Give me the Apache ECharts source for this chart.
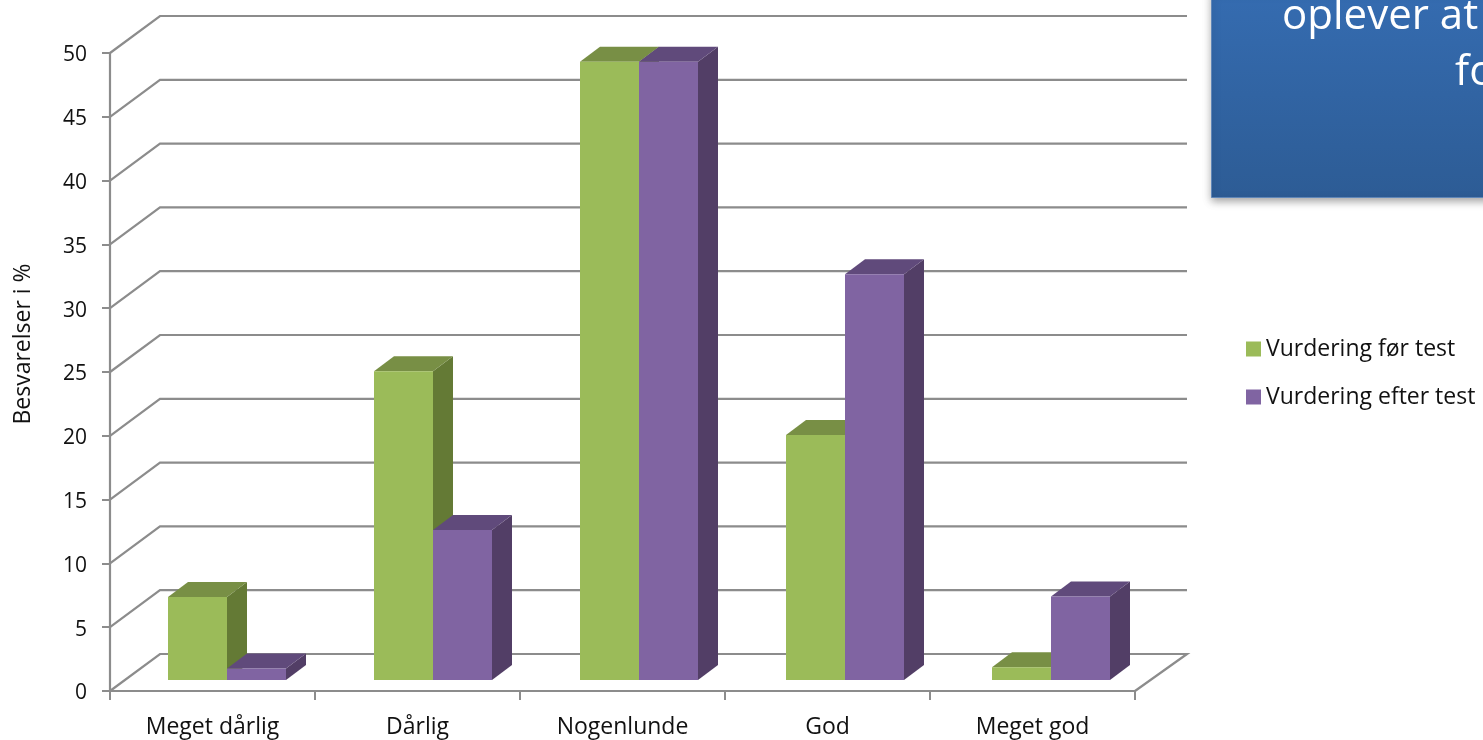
<!DOCTYPE html>
<html>
<head>
<meta charset="utf-8">
<style>html,body{margin:0;padding:0;background:#fff;overflow:hidden}#c{width:1483px;height:740px}</style>
<script src="https://cdn.jsdelivr.net/npm/echarts@6/dist/echarts.min.js"></script>
</head>
<body>
<div id="c"></div>
<script>
const categories = ['Meget dårlig', 'Dårlig', 'Nogenlunde', 'God', 'Meget god'];
const foerTest = [6.5, 24.2, 48.45, 19.2, 1];
const efterTest = [0.9, 11.75, 48.45, 31.8, 6.55];
const yTicks = [0, 5, 10, 15, 20, 25, 30, 35, 40, 45, 50];

const FONT = 'Open Sans';
const GRAY = '#8c8c8c';
const WALL = { left: 50, right: 52, up: -37 };
const BAR = { frac: 59 / 205, shift: 14.5, drift: 1, lift: 11, dx: 20, dy: -15 };

function wallItem(params, api) {
  const v = api.value(1);
  const p = api.coord([0, v]);
  const cs = params.coordSys;
  const left = cs.x, right = cs.x + cs.width;
  const pts = [[left, p[1]], [left + WALL.left, p[1] + WALL.up], [right + WALL.right, p[1] + WALL.up]];
  if (v === 0) pts.push([right, p[1]]);
  return { type: 'polyline', shape: { points: pts }, style: { fill: 'none', stroke: GRAY, lineWidth: 2.2 }, silent: true };
}

function barItem(index, colors) {
  return function (params, api) {
    const c = api.coord([api.value(0), api.value(1)]);
    const b = api.coord([api.value(0), 0]);
    const w = api.size([1, 0])[0] * BAR.frac;
    const x0 = c[0] + BAR.shift + api.value(0) * BAR.drift + (index - 1) * w;
    const x1 = x0 + w;
    const top = c[1] - BAR.lift, bot = b[1] - BAR.lift;
    const d = [BAR.dx, BAR.dy];
    return {
      type: 'group',
      children: [
        { type: 'polygon', shape: { points: [[x1, top], [x1 + d[0], top + d[1]], [x1 + d[0], bot + d[1]], [x1, bot]] }, style: { fill: colors[2] } },
        { type: 'polygon', shape: { points: [[x0, top], [x0 + d[0], top + d[1]], [x1 + d[0], top + d[1]], [x1, top]] }, style: { fill: colors[1] } },
        { type: 'rect', shape: { x: x0, y: top, width: w, height: bot - top }, style: { fill: colors[0] } }
      ]
    };
  };
}

const chart = echarts.init(document.getElementById('c'), null, { renderer: 'canvas', width: 1483, height: 740 });
chart.setOption({
  animation: false,
  backgroundColor: '#fff',
  textStyle: { fontFamily: FONT },
  grid: { left: 110, right: 348, top: 53, bottom: 49, outerBoundsMode: 'none' },
  legend: {
    orient: 'vertical', left: 1246, top: 335, padding: 0, itemWidth: 15, itemHeight: 15, itemGap: 20,
    icon: 'rect', selectedMode: false,
    data: ['Vurdering før test', 'Vurdering efter test'],
    textStyle: { fontFamily: FONT, fontSize: 23, color: '#111', height: 28, lineHeight: 28 }
  },
  xAxis: {
    type: 'category', data: categories,
    axisLine: { lineStyle: { color: GRAY, width: 2.2 } },
    axisTick: { show: true, alignWithLabel: false, length: 9, lineStyle: { color: GRAY, width: 2 } },
    axisLabel: { color: '#111', fontFamily: FONT, fontSize: 23, margin: 25, interval: 0 }
  },
  yAxis: {
    type: 'value', min: 0, max: 50, interval: 5,
    name: 'Besvarelser i %', nameLocation: 'middle', nameGap: 75, nameRotate: 90,
    nameTextStyle: { color: '#111', fontFamily: FONT, fontSize: 23, padding: [0, 0, 0, 56] },
    axisLine: { show: true, lineStyle: { color: GRAY, width: 2.2 } },
    axisTick: { show: true, length: 8, lineStyle: { color: GRAY, width: 2 } },
    axisLabel: {
      color: '#111', fontFamily: FONT, fontSize: 21, margin: 23,
      formatter: '{a|{value}}',
      rich: { a: { color: '#111', fontFamily: FONT, fontSize: 21, padding: [5, 0, 0, 0] } }
    },
    splitLine: { show: false }
  },
  graphic: [
    { type: 'rect', left: 1211, top: -10, z: 10,
      shape: { width: 290, height: 207 },
      style: {
        fill: new echarts.graphic.LinearGradient(0, 0, 0, 1, [{ offset: 0, color: '#356cb1' }, { offset: 1, color: '#2d5c95' }]),
        stroke: '#5f86b8', lineWidth: 1,
        shadowBlur: 8, shadowOffsetY: 3, shadowColor: 'rgba(0,0,0,0.35)'
      } },
    { type: 'text', left: 1282, top: -4, z: 11, style: { text: 'oplever at', fill: '#fff', fontFamily: FONT, fontSize: 42 } },
    { type: 'text', left: 1455, top: 52, z: 11, style: { text: 'fo', fill: '#fff', fontFamily: FONT, fontSize: 42 } }
  ],
  series: [
    { type: 'custom', name: 'wall', z: 1, silent: true, renderItem: wallItem, encode: { x: 0, y: 1 },
      data: yTicks.map(v => [0, v]) },
    { type: 'custom', name: 'Vurdering før test', z: 2, itemStyle: { color: '#9bbb59' },
      renderItem: barItem(0, ['#9bbb59', '#788f45', '#647a35']), encode: { x: 0, y: 1 },
      data: foerTest.map((v, i) => [i, v]) },
    { type: 'custom', name: 'Vurdering efter test', z: 3, itemStyle: { color: '#8064a2' },
      renderItem: barItem(1, ['#8064a2', '#604a7b', '#523e66']), encode: { x: 0, y: 1 },
      data: efterTest.map((v, i) => [i, v]) }
  ]
});
</script>
</body>
</html>
